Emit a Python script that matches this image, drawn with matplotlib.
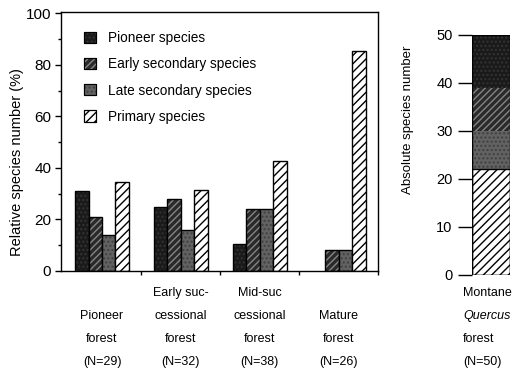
import matplotlib
matplotlib.use("Agg")
import matplotlib.pyplot as plt
import numpy as np
from matplotlib.patches import Patch
from matplotlib.transforms import blended_transform_factory

plt.rcParams['font.family'] = ['Liberation Sans', 'DejaVu Sans']
plt.rcParams['hatch.linewidth'] = 1.0

# ---------------- data ----------------
forests = ["Pioneer", "Early", "Mid", "Mature"]
forest_label_lines = [
    ["", "Pioneer", "forest", "(N=29)"],
    ["Early suc-", "cessional", "forest", "(N=32)"],
    ["Mid-suc", "cessional", "forest", "(N=38)"],
    ["", "Mature", "forest", "(N=26)"],
]
species_names = ["Pioneer species", "Early secondary species",
                 "Late secondary species", "Primary species"]
pioneer_pct = [31.0, 25.0, 10.5, 0.0]
early_pct = [21.0, 28.0, 24.0, 8.0]
late_pct = [14.0, 16.0, 24.0, 8.0]
primary_pct = [34.5, 31.5, 42.5, 85.5]

# Montane Quercus forest, absolute numbers
montane_pioneer = 11
montane_early = 9
montane_late = 8
montane_primary = 22
montane_label_lines = ["Montane", "Quercus", "forest", "(N=50)"]

# ---------------- styles ----------------
# (facecolor, hatch, hatchcolor)
styles = [
    ("#1a1a1a", "....", "#333333"),
    ("#2a2a2a", "/////", "#858585"),
    ("#626262", "....", "#404040"),
    ("white", "////", "black"),
]

W, H = 529, 375
fig = plt.figure(figsize=(W / 100, H / 100), dpi=100)

def fx(px):
    return px / W

def fy(py):
    return 1 - py / H

# main axes
ax = fig.add_axes([fx(61), fy(271), fx(378) - fx(61), fy(12) - fy(271)])
x = np.arange(len(forests))
w = 0.171
series = [pioneer_pct, early_pct, late_pct, primary_pct]
for i, (vals, (fc, hatch, hc)) in enumerate(zip(series, styles)):
    pos = x + (i - 1.5) * w
    ax.bar(pos, vals, width=w, color=fc, edgecolor='none', linewidth=0)
    ax.bar(pos, vals, width=w, color='none', edgecolor=hc, hatch=hatch, linewidth=0)
    vv = np.array(vals)
    m = vv > 0
    ax.bar(pos[m], vv[m], width=w, color='none', edgecolor='black', linewidth=1.0)

ax.set_xlim(-0.52, 3.5)
ax.set_ylim(0, 100.5)
ax.set_yticks([0, 20, 40, 60, 80, 100])
ax.set_yticks([10, 30, 50, 70, 90], minor=True)
ax.set_xticks([0.5, 1.5, 2.5, 3.5])
ax.set_xticklabels([])
ax.tick_params(axis='y', which='major', direction='out', length=4, width=1,
               labelsize=11, pad=3)
ax.tick_params(axis='y', which='minor', direction='out', length=2.5, width=1)
ax.tick_params(axis='x', which='major', direction='out', length=3, width=1)
for s in ax.spines.values():
    s.set_linewidth(1.0)

# legend
handles = []
for fc, hatch, hc in styles:
    base = Patch(facecolor=fc, edgecolor='black', linewidth=0.8)
    over = Patch(facecolor='none', edgecolor=hc, hatch=hatch, linewidth=0)
    edge = Patch(facecolor='none', edgecolor='black', linewidth=0.8)
    handles.append((base, over, edge))
ax.legend(handles, species_names, loc='upper left',
          bbox_to_anchor=(fx(84), fy(31)), bbox_transform=fig.transFigure,
          frameon=False, fontsize=9.8, handlelength=0.9, handleheight=0.9,
          handletextpad=0.85, labelspacing=0.9, borderpad=0, borderaxespad=0)

# x labels beneath groups
trans = blended_transform_factory(ax.transData, fig.transFigure)
line_y = [293, 316, 339, 362]
for xi, lines in zip(x, forest_label_lines):
    for ly, txt in zip(line_y, lines):
        if txt:
            ax.text(xi, fy(ly), txt, transform=trans, ha='center', va='center',
                    fontsize=9)

fig.text(fx(17), fy(162), "Relative species number (%)", rotation=90,
         ha='center', va='center', fontsize=10.5)

# right panel
ax2 = fig.add_axes([fx(472), fy(275), fx(510) - fx(472), fy(35) - fy(275)])
stack = [montane_primary, montane_late, montane_early, montane_pioneer]
stack_styles = [styles[3], styles[2], styles[1], styles[0]]
bottom = 0
for val, (fc, hatch, hc) in zip(stack, stack_styles):
    ax2.bar(0, val, bottom=bottom, width=1, color=fc, edgecolor='none', linewidth=0)
    ax2.bar(0, val, bottom=bottom, width=1, color='none', edgecolor=hc,
            hatch=hatch, linewidth=0)
    bottom += val
ax2.bar(0, montane_primary, width=1, color='none', edgecolor='black', linewidth=1.0)
ax2.bar(0, bottom, width=1, color='none', edgecolor='black', linewidth=1.0)
ax2.set_xlim(-0.5, 0.5)
ax2.set_ylim(0, 50)
for s in ax2.spines.values():
    s.set_visible(False)
ax2.set_xticks([])
ax2.set_yticks([0, 10, 20, 30, 40, 50])
ax2.tick_params(axis='y', direction='out', length=10, width=1, labelsize=10.5, pad=4)

for ly, txt in zip(line_y, montane_label_lines):
    fig.text(fx(463), fy(ly), txt, ha='left', va='center', fontsize=9,
             style='italic' if txt == "Quercus" else 'normal')

fig.text(fx(408), fy(120), "Absolute species number", rotation=90,
         ha='center', va='center', fontsize=9.5)

fig.savefig("out.png", dpi=100)
